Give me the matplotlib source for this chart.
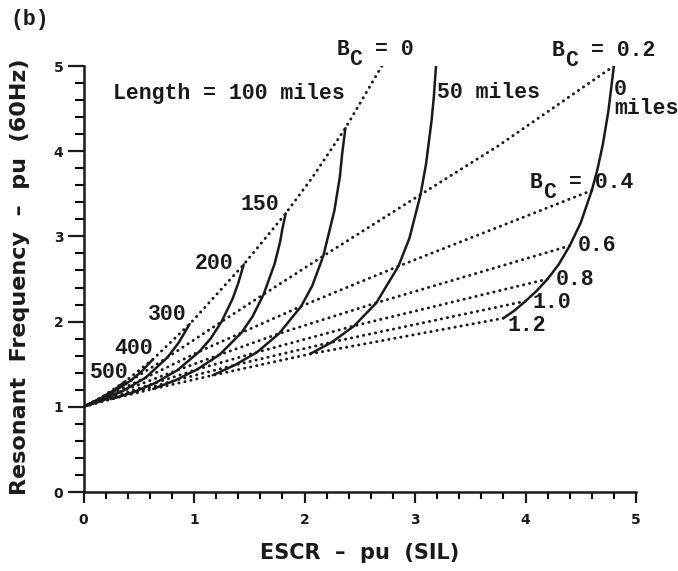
import numpy as np
import matplotlib
matplotlib.use("Agg")
import matplotlib.pyplot as plt
from matplotlib.ticker import MultipleLocator

################################################################################
# constant line length curves (solid): ESCR vs resonant frequency

escr_0mi = [4.80, 4.75, 4.70, 4.65, 4.60, 4.50, 4.40, 4.30, 4.20, 4.10, 4.00, 3.90, 3.80]
freq_0mi = [5.00, 4.47, 4.08, 3.78, 3.54, 3.16, 2.89, 2.67, 2.50, 2.36, 2.24, 2.13, 2.04]

escr_50mi = [3.19, 3.17, 3.15, 3.10, 3.05, 2.95, 2.85, 2.65, 2.45, 2.25, 2.05]
freq_50mi = [5.00, 4.63, 4.36, 3.85, 3.49, 2.98, 2.65, 2.22, 1.95, 1.76, 1.62]

escr_100mi = [2.37, 2.34, 2.32, 2.27, 2.17, 2.07, 1.97, 1.77, 1.57, 1.37, 1.17]
freq_100mi = [4.27, 3.96, 3.70, 3.30, 2.77, 2.42, 2.18, 1.86, 1.64, 1.49, 1.37]

escr_150mi = [1.83, 1.80, 1.78, 1.73, 1.63, 1.53, 1.43, 1.23, 1.03, 0.83, 0.63]
freq_150mi = [3.27, 3.09, 2.94, 2.68, 2.32, 2.06, 1.87, 1.61, 1.44, 1.31, 1.21]

escr_200mi = [1.45, 1.40, 1.35, 1.25, 1.15, 1.05, 0.85, 0.65, 0.45, 0.25]
freq_200mi = [2.67, 2.45, 2.27, 2.00, 1.80, 1.65, 1.43, 1.28, 1.17, 1.09]

escr_300mi = [0.96, 0.86, 0.76, 0.56, 0.36, 0.16, 0.00]
freq_300mi = [1.97, 1.75, 1.58, 1.34, 1.19, 1.07, 1.00]

escr_400mi = [0.63, 0.53, 0.43, 0.23, 0.03, 0.00]
freq_400mi = [1.56, 1.42, 1.31, 1.14, 1.02, 1.00]

escr_500mi = [0.38, 0.28, 0.18, 0.08, 0.00]
freq_500mi = [1.30, 1.20, 1.12, 1.05, 1.00]

################################################################################
# constant Bc curves (dotted)

escr_bc00 = [2.70, 2.37, 2.07, 1.83, 1.45, 0.96, 0.63, 0.38, 0.16, 0.00]
freq_bc00 = [5.00, 4.27, 3.69, 3.27, 2.67, 1.97, 1.56, 1.30, 1.11, 1.00]

escr_bc02 = [4.80, 3.75, 3.05, 2.17, 1.63, 1.25, 0.76, 0.43, 0.18, 0.00]
freq_bc02 = [5.00, 4.06, 3.49, 2.77, 2.32, 2.00, 1.58, 1.31, 1.12, 1.00]

escr_bc04 = [4.60, 2.85, 1.97, 1.43, 1.05, 0.56, 0.23, 0.00]
freq_bc04 = [3.54, 2.65, 2.18, 1.87, 1.65, 1.34, 1.14, 1.00]

escr_bc06 = [4.40, 2.65, 1.77, 1.23, 0.85, 0.36, 0.03, 0.00]
freq_bc06 = [2.89, 2.22, 1.86, 1.61, 1.43, 1.19, 1.02, 1.00]

escr_bc08 = [4.20, 2.45, 1.57, 1.03, 0.65, 0.16, 0.00]
freq_bc08 = [2.50, 1.95, 1.64, 1.44, 1.28, 1.07, 1.00]

escr_bc10 = [4.00, 2.25, 1.37, 0.83, 0.45, 0.18, 0.00]
freq_bc10 = [2.24, 1.76, 1.49, 1.31, 1.17, 1.07, 1.00]

escr_bc12 = [3.80, 2.05, 1.17, 0.63, 0.25, 0.00]
freq_bc12 = [2.04, 1.62, 1.37, 1.21, 1.09, 1.00]

# curve labels: (text, x, y)
length_labels = [("Length = 100 miles", 0.27, 4.68), ("50 miles", 3.20, 4.69),
                 ("0\nmiles", 4.80, 4.61),
                 ("150", 1.42, 3.37), ("200", 1.01, 2.68), ("300", 0.58, 2.08),
                 ("400", 0.28, 1.69), ("500", 0.06, 1.40)]
bc_labels = [("0", 2.29, 5.19), ("0.2", 4.24, 5.18), ("0.4", 4.04, 3.63)]
bc_value_labels = [("0.6", 4.47, 2.89), ("0.8", 4.27, 2.49),
                   ("1.0", 4.06, 2.22), ("1.2", 3.84, 1.95)]

################################################################################

MONO = dict(family="Liberation Mono", weight="bold", size=15.5, color="#1a1a1a")
FS = MONO["size"]

def bc_label(ax, value, x, y):
    # "B" with a big dropped "C", then "= value", all monospaced
    ax.text(x, y, "B", ha="left", va="center", clip_on=False, **MONO)
    ax.annotate("C", (x, y), xytext=(0.6 * FS, -7), textcoords="offset points",
                ha="left", va="center", annotation_clip=False, **MONO)
    ax.annotate("= " + value, (x, y), xytext=(1.8 * FS, 0), textcoords="offset points",
                ha="left", va="center", annotation_clip=False, **MONO)

################################################################################

fig = plt.figure(figsize=(6.78, 5.71), dpi=100)
ax = fig.add_axes([83.5 / 678, 79 / 571, 552.5 / 678, 426 / 571])

solid = dict(color="#1a1a1a", lw=1.8, solid_capstyle="round", solid_joinstyle="round")
dotted = dict(color="#1a1a1a", lw=2.1, ls=(0, (0.1, 2.0)), dash_capstyle="round")

for xs, ys in [(escr_0mi, freq_0mi), (escr_50mi, freq_50mi), (escr_100mi, freq_100mi),
               (escr_150mi, freq_150mi), (escr_200mi, freq_200mi), (escr_300mi, freq_300mi),
               (escr_400mi, freq_400mi), (escr_500mi, freq_500mi)]:
    ax.plot(xs, ys, **solid)

for xs, ys in [(escr_bc00, freq_bc00), (escr_bc02, freq_bc02), (escr_bc04, freq_bc04),
               (escr_bc06, freq_bc06), (escr_bc08, freq_bc08), (escr_bc10, freq_bc10),
               (escr_bc12, freq_bc12)]:
    ax.plot(xs, ys, **dotted)

for txt, x, y in length_labels + bc_value_labels:
    ax.text(x, y, txt, ha="left", va="center", linespacing=0.85, **MONO)
for val, x, y in bc_labels:
    bc_label(ax, val, x, y)

ax.set_xlim(0, 5)
ax.set_ylim(0, 5)
ax.spines["top"].set_visible(False)
ax.spines["right"].set_visible(False)
for s in ["left", "bottom"]:
    ax.spines[s].set_linewidth(1.8)
    ax.spines[s].set_color("#1a1a1a")

ax.xaxis.set_major_locator(MultipleLocator(1))
ax.xaxis.set_minor_locator(MultipleLocator(0.2))
ax.yaxis.set_major_locator(MultipleLocator(1))
ax.yaxis.set_minor_locator(MultipleLocator(0.2))
ax.tick_params(axis="x", which="major", direction="out", length=8, width=1.6, pad=7,
               labelsize=10, colors="#1a1a1a")
ax.tick_params(axis="x", which="minor", direction="out", length=5, width=1.5)
ax.tick_params(axis="y", which="major", direction="out", length=11.5, width=1.6, pad=3,
               labelsize=10, colors="#1a1a1a")
ax.tick_params(axis="y", which="minor", direction="out", length=6.5, width=1.5)
for lab in ax.get_xticklabels() + ax.get_yticklabels():
    lab.set_fontweight("bold")

ax.set_xlabel("ESCR  \u2013  pu  (SIL)", fontsize=15, fontweight="bold", color="#1a1a1a")
ax.set_ylabel("Resonant  Frequency  \u2013  pu  (60Hz)", fontsize=16, fontweight="bold",
              color="#1a1a1a")
ax.xaxis.set_label_coords(0.5, -0.12)
ax.yaxis.set_label_coords(-0.097, 0.505)

fig.text(10 / 678, 1 - 20 / 571, "(b)", ha="left", va="center", **MONO)

fig.savefig("out.png", dpi=100)
